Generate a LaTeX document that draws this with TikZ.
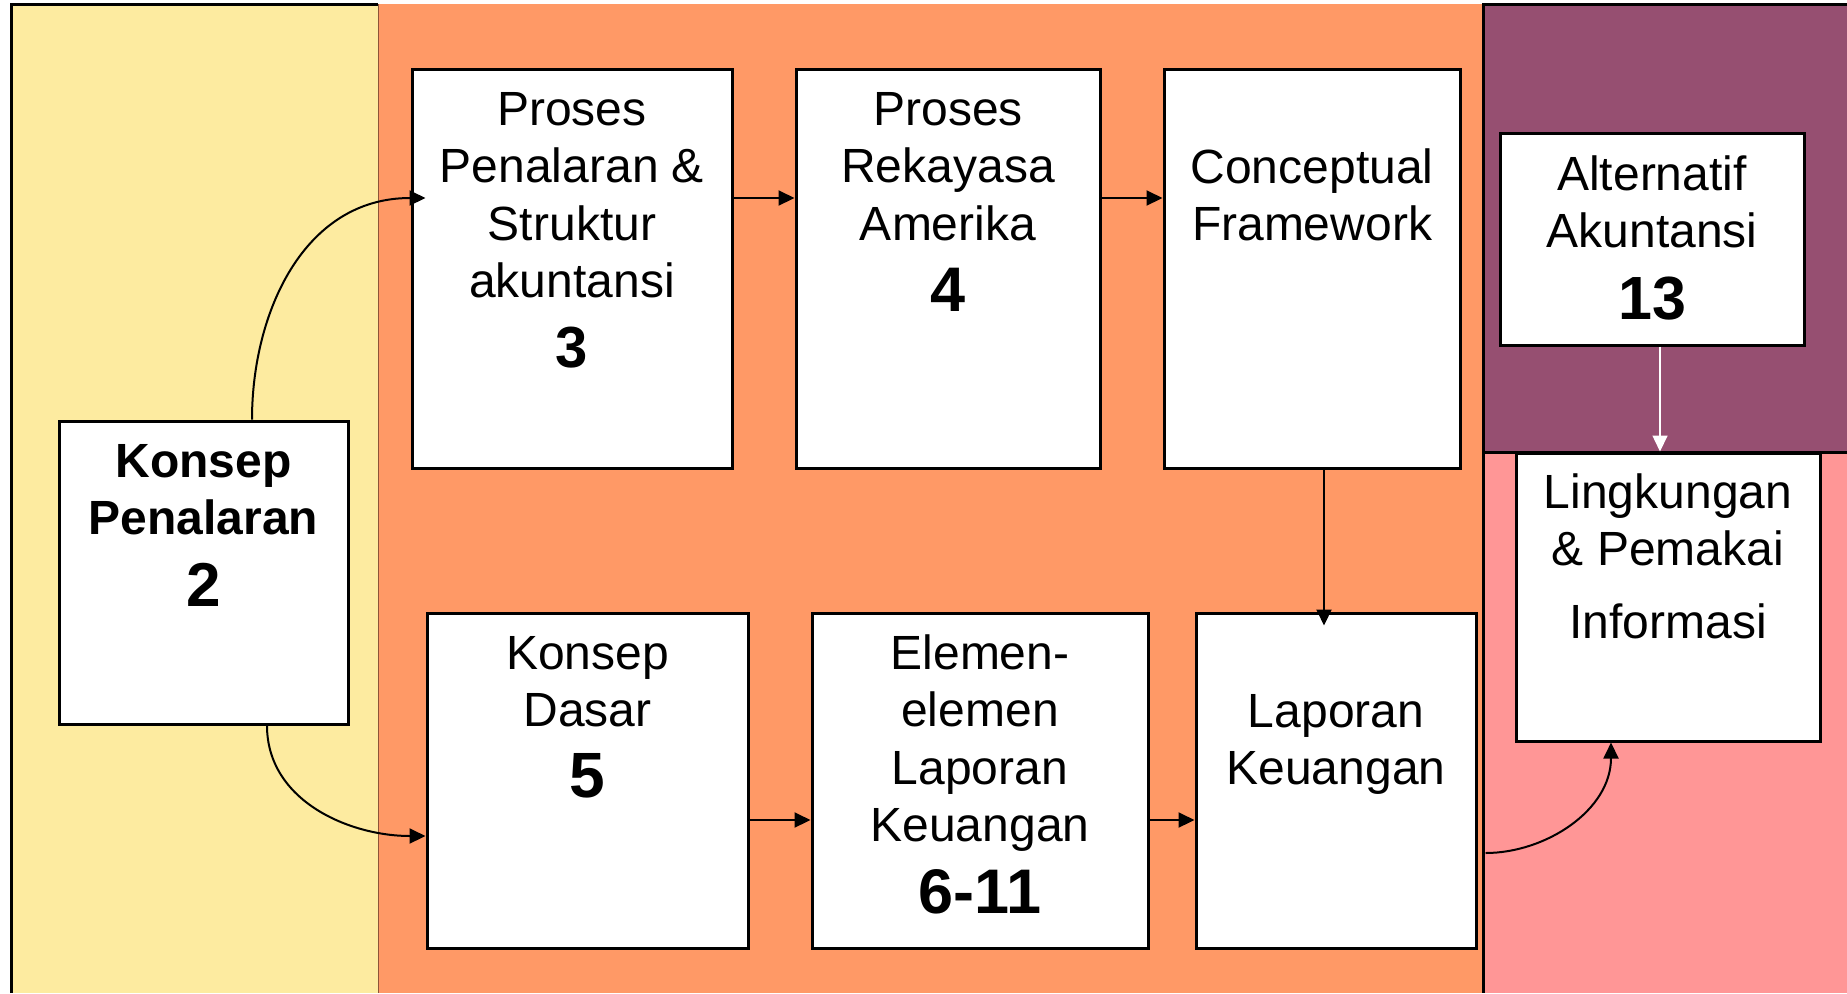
\documentclass[tikz,border=0pt]{standalone}
\usepackage{fontspec}
\setmainfont{Liberation Sans}
\usetikzlibrary{arrows.meta}

\definecolor{kuning}{RGB}{253,235,160}
\definecolor{oranye}{RGB}{255,153,102}
\definecolor{ungu}{RGB}{150,79,113}
\definecolor{merahmuda}{RGB}{255,150,150}
\newcommand{\nomorbab}[2]{{\fontsize{#1}{#1}\selectfont\bfseries #2}}

\begin{document}
\begin{tikzpicture}[x=0.5pt, y=-0.5pt, inner sep=0pt,
	kotak/.style={draw, line width=1.5pt, fill=white},
	teks/.style={anchor=base, font=\fontsize{24}{28.75}\selectfont},
	panah/.style={-{Triangle[length=8pt,width=7.5pt]}, line width=1pt}]
	\useasboundingbox (0,0) rectangle (1847,993);

	% latar
	\fill[kuning] (11,4) rectangle (378,993);
	\fill[oranye] (378,4) rectangle (1483,993);
	\fill[ungu] (1483,4) rectangle (1847,452);
	\fill[merahmuda] (1483,452) rectangle (1847,993);
	\draw[line width=0.5pt, black!45!oranye] (378,4) -- (378,993);
	\draw[line width=1.5pt] (11,993) -- (11,4) -- (378,4);
	\draw[line width=1.5pt] (1847,4) -- (1483,4) -- (1483,993);
	\draw[line width=1.5pt] (1483,452) -- (1847,452);

	\node[kotak, minimum width=144.5pt, minimum height=151.5pt] (kp) at (203.5,572.5) {};
	\node[kotak, minimum width=160pt, minimum height=199.5pt] (pp) at (572,268.5) {};
	\node[kotak, minimum width=152pt, minimum height=199.5pt] (pr) at (948,268.5) {};
	\node[kotak, minimum width=148pt, minimum height=199.5pt] (cf) at (1312,268.5) {};
	\node[kotak, minimum width=152pt, minimum height=106pt] (aa) at (1652,239) {};
	\node[kotak, minimum width=152pt, minimum height=144pt] (lp) at (1668,597) {};
	\node[kotak, minimum width=160.5pt, minimum height=167.5pt] (kd) at (587.5,780.5) {};
	\node[kotak, minimum width=168pt, minimum height=167.5pt] (el) at (980,780.5) {};
	\node[kotak, minimum width=140pt, minimum height=167.5pt] (lk) at (1336,780.5) {};

	\node[teks, font=\fontsize{24}{28.75}\selectfont\bfseries] (t-kp) at (203.5,477)
		{\begin{tabular}[t]{@{}c@{}}Konsep\\Penalaran\\[5.7pt]\nomorbab{31}{2}\end{tabular}};
	\node[teks] (t-pp) at (572,125)
		{\begin{tabular}[t]{@{}c@{}}Proses\\Penalaran \&\\Struktur\\akuntansi\\[6.2pt]\nomorbab{29}{3}\end{tabular}};
	\node[teks] (t-pr) at (948,125)
		{\begin{tabular}[t]{@{}c@{}}Proses\\Rekayasa\\Amerika\\[5.35pt]\nomorbab{31.5}{4}\end{tabular}};
	\node[teks] (t-cf) at (1312,183)
		{\begin{tabular}[t]{@{}c@{}}Conceptual\\Framework\end{tabular}};
	\node[teks, font=\fontsize{24}{28.5}\selectfont] (t-aa) at (1652,190)
		{\begin{tabular}[t]{@{}c@{}}Alternatif\\Akuntansi\\[6.15pt]\nomorbab{30.5}{13}\end{tabular}};
	\node[teks] (t-lp) at (1668,508)
		{\begin{tabular}[t]{@{}c@{}}Lingkungan\\\& Pemakai\\[7.75pt]Informasi\end{tabular}};
	\node[teks] (t-kd) at (587.5,669)
		{\begin{tabular}[t]{@{}c@{}}Konsep\\Dasar\\[5pt]\nomorbab{32}{5}\end{tabular}};
	\node[teks] (t-el) at (980,669)
		{\begin{tabular}[t]{@{}c@{}}Elemen-\\elemen\\Laporan\\Keuangan\\[5.35pt]\nomorbab{31.5}{6-11}\end{tabular}};
	\node[teks] (t-lk) at (1336,727)
		{\begin{tabular}[t]{@{}c@{}}Laporan\\Keuangan\end{tabular}};

	% panah
	\draw[panah, shorten >=-7.5pt] ([shift={(48.5,0)}]kp.north) to[out=90, in=180] ([shift={(0,-70.5)}]pp.west);
	\draw[panah] ([shift={(63.5,0)}]kp.south) to[out=-90, in=180] ([shift={(0,55.5)}]kd.west);
	\draw[panah] ([shift={(0,-70.5)}]pp.east) -- ([shift={(0,-70.5)}]pr.west);
	\draw[panah] ([shift={(0,-70.5)}]pr.east) -- ([shift={(0,-70.5)}]cf.west);
	\draw[panah, shorten >=-7pt] ([shift={(12,0)}]cf.south) -- ([shift={(-12,0)}]lk.north);
	\draw[panah] ([shift={(0,39.5)}]kd.east) -- ([shift={(0,39.5)}]el.west);
	\draw[panah] ([shift={(0,39.5)}]el.east) -- ([shift={(0,39.5)}]lk.west);
	\draw[panah, shorten <=4pt] ([shift={(0,72.5)}]lk.east) to[out=0, in=-90] ([shift={(-57,0)}]lp.south);
	\draw[panah, white, line width=0.8pt] ([shift={(8,0)}]aa.south) -- ([shift={(-8,0)}]lp.north);
\end{tikzpicture}
\end{document}
